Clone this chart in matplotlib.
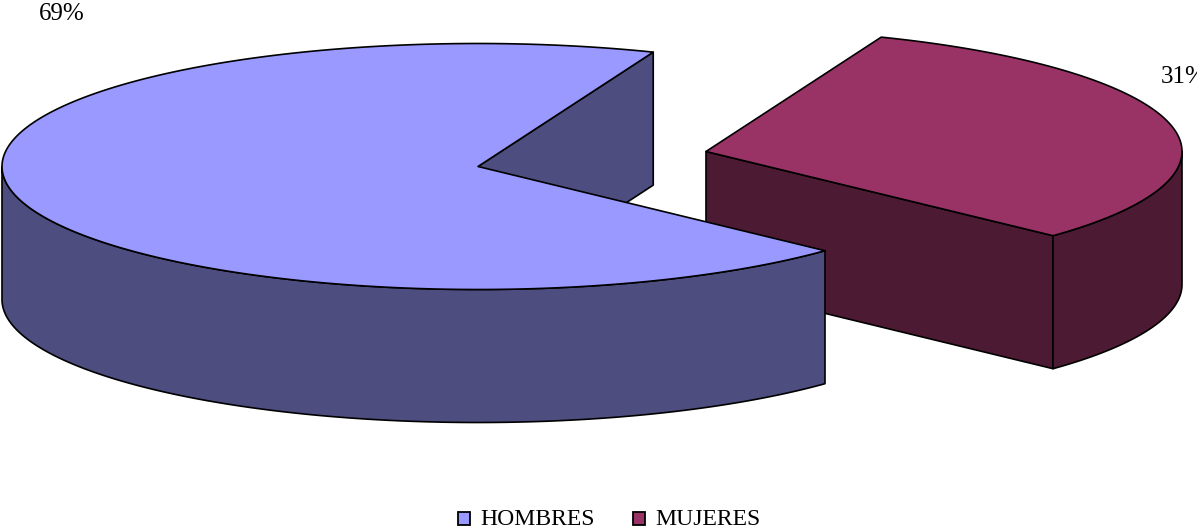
import numpy as np
import matplotlib
matplotlib.use("Agg")
import matplotlib.pyplot as plt
from matplotlib.patches import Polygon, Rectangle

categories = ["HOMBRES", "MUJERES"]
values = [69, 31]
top_colors = ["#9999FF", "#993366"]
side_colors = ["#4D4D80", "#4D1A33"]
labels = ["69%", "31%"]

W, H = 1197, 530
RX, RY, DEPTH = 476, 123, 133
CENTERS = {"HOMBRES": (478, 166.5), "MUJERES": (706, 151.5)}
START = 68.4  # parametric angle where the HOMBRES slice begins

fig = plt.figure(figsize=(W / 100, H / 100), dpi=100)
ax = fig.add_axes([0, 0, 1, 1])
ax.set_xlim(0, W)
ax.set_ylim(H, 0)
ax.axis("off")

LW = 1.2


def arc(c, a0, a1, dy=0.0):
    t = np.radians(np.linspace(a0, a1, 300))
    return np.column_stack([c[0] + RX * np.cos(t), c[1] - RY * np.sin(t) + dy])


def poly(pts, color, z):
    ax.add_patch(Polygon(pts, closed=True, facecolor=color, edgecolor="black",
                         linewidth=LW, joinstyle="round", zorder=z))


def draw_slice(name, a0, a1, face_angle, top, side, z):
    c = np.array(CENTERS[name], dtype=float)
    # the one flat cut face that looks towards the viewer
    e = arc(c, face_angle, face_angle)[0]
    poly([c, e, e + [0, DEPTH], c + [0, DEPTH]], side, z)
    # outer curved wall: only the part on the lower half of the ellipse
    for shift in (0, 360):
        lo, hi = max(a0 + shift, 180.0), min(a1 + shift, 360.0)
        if hi > lo:
            poly(np.vstack([arc(c, lo, hi), arc(c, hi, lo, DEPTH)]), side, z + 1)
    # top surface
    poly(np.vstack([[c], arc(c, a0, a1)]), top, z + 2)


sweeps = [v / sum(values) * 360 for v in values]
a0_h = START
a1_h = a0_h + sweeps[0]
a1_m = START
a0_m = a1_m - sweeps[1]

draw_slice(categories[1], a0_m, a1_m, a0_m, top_colors[1], side_colors[1], 1)
draw_slice(categories[0], a0_h, a1_h, a0_h, top_colors[0], side_colors[0], 5)

serif = "Liberation Serif"
ax.text(39, 14, labels[0], family=serif, fontsize=18, ha="left", va="center", color="black")
ax.text(1161, 77, labels[1], family=serif, fontsize=18, ha="left", va="center", color="black")

for name, color, bx, tx in [(categories[0], top_colors[0], 458, 480),
                            (categories[1], top_colors[1], 633, 655)]:
    ax.add_patch(Rectangle((bx, 512), 12, 13, facecolor=color, edgecolor="black",
                           linewidth=1.3, zorder=10))
    ax.text(tx, 519.5, name, family=serif, fontsize=17.1, ha="left", va="center", color="black")

fig.savefig("out.png", dpi=100)
